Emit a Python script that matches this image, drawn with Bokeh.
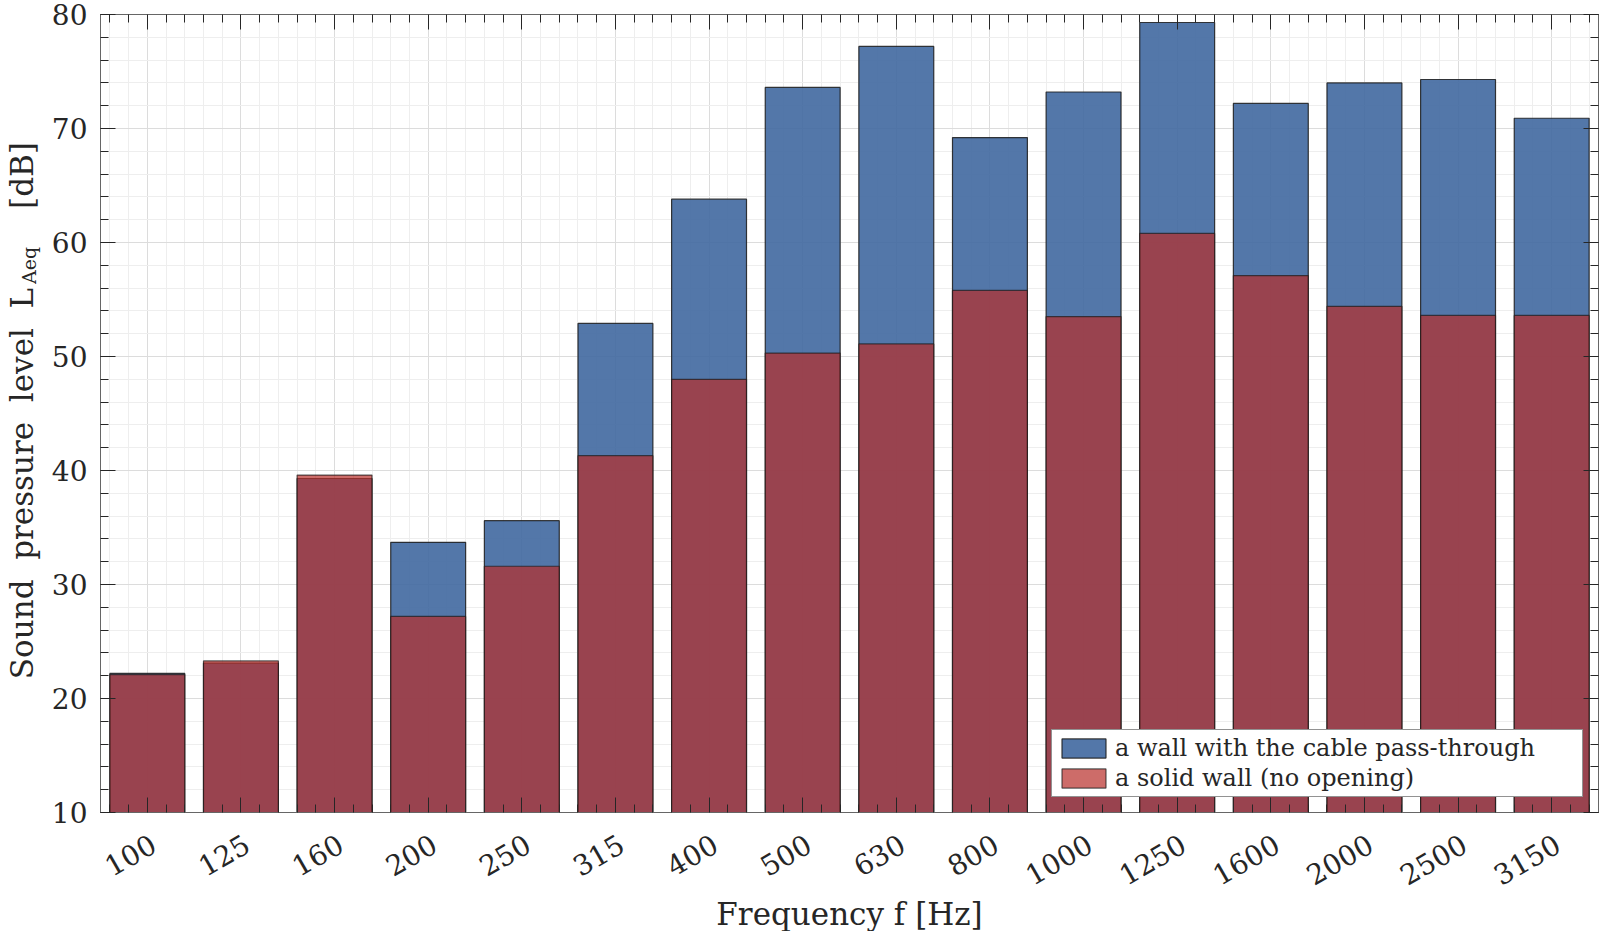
import math
import numpy as np
from bokeh.plotting import figure
from bokeh.layouts import row, column
from bokeh.models import (ColumnDataSource, Range1d, LinearAxis, FixedTicker,
                          SingleIntervalTicker, Legend, LegendItem)
from bokeh.core.properties import value
from bokeh.embed import file_html
from bokeh.resources import INLINE

# ---- data ----
freq_labels = ["100", "125", "160", "200", "250", "315", "400", "500",
               "630", "800", "1000", "1250", "1600", "2000", "2500", "3150"]
cable_wall = [22.2, 23.1, 39.3, 33.7, 35.6, 52.9, 63.8, 73.6,
              77.2, 69.2, 73.2, 79.3, 72.2, 74.0, 74.3, 70.9]
solid_wall = [22.1, 23.3, 39.6, 27.2, 31.6, 41.3, 48.0, 50.3,
              51.1, 55.8, 53.5, 60.8, 57.1, 54.4, 53.6, 53.6]
y_min, y_max = 10, 80
x_title = "Frequency f [Hz]"
NB = "\u00a0"
y_title_main = f"Sound {NB}pressure {NB}level {NB}L"
y_title_sub = "Aeq"
y_title_unit = "[dB]"
legend_labels = ["a wall with the cable pass-through", "a solid wall (no opening)"]

FONT = "DejaVu Serif"
TXT = "#262626"
H_TOTAL = 931
W_TOTAL = 1600
W_LAB = 48
W_MAIN = W_TOTAL - W_LAB
H_MAIN = 829
H_BOT = H_TOTAL - H_MAIN
B_LEFT, B_RIGHT = 52, 2

xpos = list(range(1, len(freq_labels) + 1))
src = ColumnDataSource(dict(x=xpos, cable=cable_wall, solid=solid_wall, f=freq_labels))
x_range = Range1d(0.5, len(freq_labels) + 0.5)

def bare(fig):
    fig.outline_line_color = None
    fig.grid.visible = False
    return fig

# ---- y-axis title panel ----
ylab = bare(figure(width=W_LAB, height=H_TOTAL, output_backend="svg", toolbar_location=None,
                   x_range=Range1d(0, W_LAB), y_range=Range1d(0, H_TOTAL), min_border=0,
                   x_axis_location=None, y_axis_location=None))
ylab.text(x=[21], y=[448], text=[y_title_main], angle=math.pi / 2,
          text_font=value(FONT), text_font_size="31px", text_color=TXT,
          text_align="center", text_baseline="alphabetic")
ylab.text(x=[28], y=[666], text=[y_title_sub], angle=math.pi / 2,
          text_font=value(FONT), text_font_size="19px", text_color=TXT,
          text_align="center", text_baseline="alphabetic")
ylab.text(x=[21], y=[756], text=[y_title_unit], angle=math.pi / 2,
          text_font=value(FONT), text_font_size="31px", text_color=TXT,
          text_align="center", text_baseline="alphabetic")

# ---- main chart ----
p = figure(width=W_MAIN, height=H_MAIN, output_backend="svg", toolbar_location=None,
           x_range=x_range, y_range=Range1d(y_min, y_max),
           min_border_left=B_LEFT, min_border_right=B_RIGHT, min_border_top=14, min_border_bottom=17,
           x_axis_location=None, y_axis_location=None)
p.outline_line_color = "#666666"
p.outline_line_width = 1

minor_x = [round(v, 1) for v in np.arange(0.6, 16.41, 0.2) if abs(v - round(v)) > 1e-6]
xtick = FixedTicker(ticks=xpos, minor_ticks=minor_x)
ytick = SingleIntervalTicker(interval=10, num_minor_ticks=5)

def style_axis(ax, labels=True):
    ax.axis_line_color = "#666666"
    ax.axis_line_width = 1
    ax.major_tick_in = 15
    ax.major_tick_out = 0
    ax.minor_tick_in = 8
    ax.minor_tick_out = 0
    ax.major_tick_line_color = TXT
    ax.minor_tick_line_color = TXT
    if labels:
        ax.major_label_text_font = FONT
        ax.major_label_text_font_size = "28px"
        ax.major_label_text_color = TXT
    else:
        ax.major_label_text_color = None
        ax.major_label_text_font_size = "1px"
        ax.major_label_standoff = 0

for loc in ("below", "above"):
    ax = LinearAxis(ticker=xtick)
    style_axis(ax, labels=False)
    p.add_layout(ax, loc)

yl = LinearAxis(ticker=ytick)
style_axis(yl)
yl.major_label_standoff = 13
p.add_layout(yl, "left")

yr = LinearAxis(ticker=ytick)
style_axis(yr, labels=False)
p.add_layout(yr, "right")

p.xgrid.ticker = xtick
p.ygrid.ticker = ytick
for g in (p.xgrid, p.ygrid):
    g.grid_line_color = "#dcdcdc"
    g.grid_line_width = 1
    g.minor_grid_line_color = "#eeeeee"
    g.minor_grid_line_width = 1

r_cable = p.vbar(x="x", top="cable", bottom=y_min, width=0.8, source=src,
                 fill_color="#4068a0", fill_alpha=0.9,
                 line_color="#1a1a1a", line_width=1.2, line_alpha=0.85)
r_solid = p.vbar(x="x", top="solid", bottom=y_min, width=0.8, source=src,
                 fill_color="#b82e2a", fill_alpha=0.7,
                 line_color="#1a1a1a", line_width=1.2, line_alpha=0.7)

legend = Legend(items=[LegendItem(label=legend_labels[0], renderers=[r_cable]),
                       LegendItem(label=legend_labels[1], renderers=[r_solid])],
                location="bottom_right", margin=15, padding=4, spacing=2,
                glyph_width=55, glyph_height=24, label_height=24, label_standoff=4,
                label_width=463,
                label_text_font=FONT, label_text_font_size="24px", label_text_color=TXT,
                border_line_color=TXT, border_line_width=1,
                background_fill_color="white", background_fill_alpha=1.0)
p.add_layout(legend, "center")

# ---- x tick labels and x title panel (shares the x scale of the chart) ----
bot = bare(figure(width=W_MAIN, height=H_BOT, output_backend="svg", toolbar_location=None,
                  x_range=x_range, y_range=Range1d(0, H_BOT),
                  min_border_left=B_LEFT, min_border_right=B_RIGHT, min_border_top=0,
                  min_border_bottom=0, x_axis_location=None, y_axis_location=None))
bot.text(x="x", y=H_BOT - 12, text="f", source=src, angle=math.pi / 6, x_offset=6,
         text_font=value(FONT), text_font_size="28px", text_color=TXT,
         text_align="right", text_baseline="alphabetic")
bot.text(x=[(x_range.start + x_range.end) / 2], y=[18], text=[x_title],
         text_font=value(FONT), text_font_size="31px", text_color=TXT,
         text_align="center", text_baseline="alphabetic")

layout = row(ylab, column(p, bot))
open("out.html", "w").write(file_html(layout, INLINE))
